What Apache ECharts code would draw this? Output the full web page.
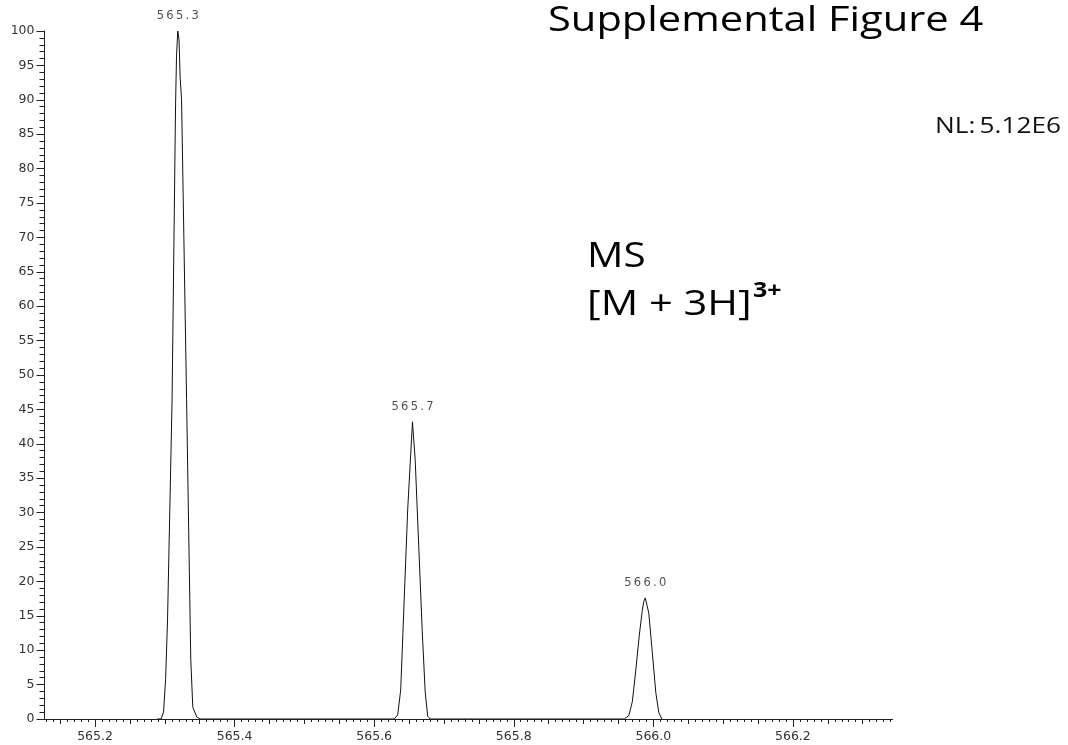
<!DOCTYPE html>
<html>
<head>
<meta charset="utf-8">
<title>Supplemental Figure 4</title>
<script src="https://cdn.jsdelivr.net/npm/echarts@6/dist/echarts.min.js"></script>
<style>
  html, body { margin: 0; padding: 0; background: #fff; }
  #chart { width: 1068px; height: 745px; }
</style>
</head>
<body>
<div id="chart"></div>
<script>
// Profile-mode spectrum of the [M + 3H]3+ isotope cluster (m/z, relative abundance %)
const profileMz = [
  565.2889, 565.2946, 565.2982, 565.3011, 565.3039, 565.3104, 565.3154, 565.3168,
  565.3186, 565.3204, 565.3219, 565.3240, 565.3312, 565.3372, 565.3401, 565.3458, 565.3505,
  565.6287, 565.6337, 565.6380, 565.6430, 565.6480, 565.6523, 565.6549,
  565.6588, 565.6638, 565.6688, 565.6731, 565.6767, 565.6803,
  565.9584, 565.9649, 565.9699, 565.9749, 565.9799, 565.9842, 565.9864, 565.9885,
  565.9935, 565.9986, 566.0036, 566.0079, 566.0122
];
const profileIntensity = [
  0, 0, 1.0, 5.7, 14.4, 46.4, 89.2, 96.5,
  100, 98.7, 93.3, 90.0, 46.4, 8.6, 1.7, 0.3, 0,
  0, 0.6, 4.2, 17.3, 30.4, 38.4, 43.2,
  37.6, 25.3, 12.9, 3.9, 0.4, 0,
  0, 0.5, 2.5, 7.1, 12.2, 15.8, 17.1, 17.6,
  15.4, 9.6, 3.8, 0.9, 0
];

// Labelled peak apexes
const centroidMz = [565.3186, 565.6549, 565.9885];
const centroidIntensity = [100, 43.2, 17.6];

// Axis ticks
const mzMin = 565.1276;
const mzMax = 566.343;
const mzTickLabels = [565.2, 565.4, 565.6, 565.8, 566.0, 566.2];

// Secondary tick marks every 0.05 and 0.01 m/z
const mediumTicks = [];
const smallTicks = [];
for (let k = Math.ceil(mzMin * 100); k <= Math.floor(mzMax * 100); k++) {
  const v = k / 100;
  if (k % 5 === 0) mediumTicks.push(v); else smallTicks.push(v);
}

const axisColor = '#222';
const tickFont = { fontFamily: 'DejaVu Sans', fontSize: 12.5, color: '#333' };

function tickAxis(values, len, withLine, withLabels) {
  return {
    type: 'value',
    position: 'bottom',
    offset: 0,
    min: mzMin,
    max: mzMax,
    axisLine: { show: withLine, onZero: false, lineStyle: { color: axisColor, width: 1 } },
    axisTick: { show: true, customValues: values, length: len, lineStyle: { color: axisColor, width: 1 } },
    axisLabel: withLabels
      ? Object.assign({ customValues: values, margin: 11, formatter: v => v.toFixed(1) }, tickFont)
      : { show: false },
    splitLine: { show: false }
  };
}

const chart = echarts.init(document.getElementById('chart'), null, { renderer: 'canvas' });

const annotationFont = '"Open Sans"';
const stretch = 1.19;

chart.setOption({
  animation: false,
  backgroundColor: '#fff',
  grid: { left: 44.5, right: 175.3, top: 31, bottom: 26, containLabel: false },
  xAxis: [
    tickAxis(mzTickLabels, 8, true, true),
    tickAxis(mediumTicks, 5, false, false),
    tickAxis(smallTicks, 3, false, false)
  ],
  yAxis: {
    type: 'value',
    min: 0,
    max: 100,
    interval: 5,
    axisLine: { show: true, lineStyle: { color: axisColor, width: 1 } },
    axisTick: { show: true, inside: false, length: 8, lineStyle: { color: axisColor, width: 1 } },
    minorTick: { show: true, splitNumber: 5, length: 5, lineStyle: { color: axisColor, width: 1 } },
    axisLabel: Object.assign({ margin: 10 }, tickFont),
    splitLine: { show: false },
    minorSplitLine: { show: false }
  },
  series: [
    {
      type: 'line',
      xAxisIndex: 0,
      data: profileMz.map((m, i) => [m, profileIntensity[i]]),
      symbol: 'none',
      lineStyle: { color: '#111', width: 1 },
      silent: true
    },
    {
      type: 'scatter',
      xAxisIndex: 0,
      data: centroidMz.map((m, i) => [m, centroidIntensity[i]]),
      symbolSize: 1,
      itemStyle: { color: 'rgba(0,0,0,0)' },
      label: {
        show: true,
        position: 'top',
        distance: 8,
        fontFamily: 'DejaVu Sans',
        fontSize: 11.5,
        color: '#222',
        formatter: p => p.value[0].toFixed(1).split('').join('\u2009')
      },
      silent: true
    }
  ],
  graphic: [
    {
      type: 'text', x: 548, y: 21, scaleX: stretch,
      style: { text: 'Supplemental Figure 4', font: '35px ' + annotationFont, fill: '#000',
               textAlign: 'left', textVerticalAlign: 'middle' }
    },
    {
      type: 'text', x: 935, y: 127, scaleX: stretch,
      style: { text: 'NL:\u20095.12E6', font: '22px ' + annotationFont, fill: '#111',
               textAlign: 'left', textVerticalAlign: 'middle' }
    },
    {
      type: 'text', x: 587, y: 257, scaleX: stretch,
      style: { text: 'MS', font: '34px ' + annotationFont, fill: '#000',
               textAlign: 'left', textVerticalAlign: 'middle' }
    },
    {
      type: 'text', x: 587, y: 305, scaleX: stretch,
      style: { text: '[M + 3H]', font: '35px ' + annotationFont, fill: '#000',
               textAlign: 'left', textVerticalAlign: 'middle' }
    },
    {
      type: 'text', x: 753, y: 291, scaleX: stretch,
      style: { text: '3+', font: 'bold 21px ' + annotationFont, fill: '#000',
               textAlign: 'left', textVerticalAlign: 'middle' }
    }
  ]
});
</script>
</body>
</html>
